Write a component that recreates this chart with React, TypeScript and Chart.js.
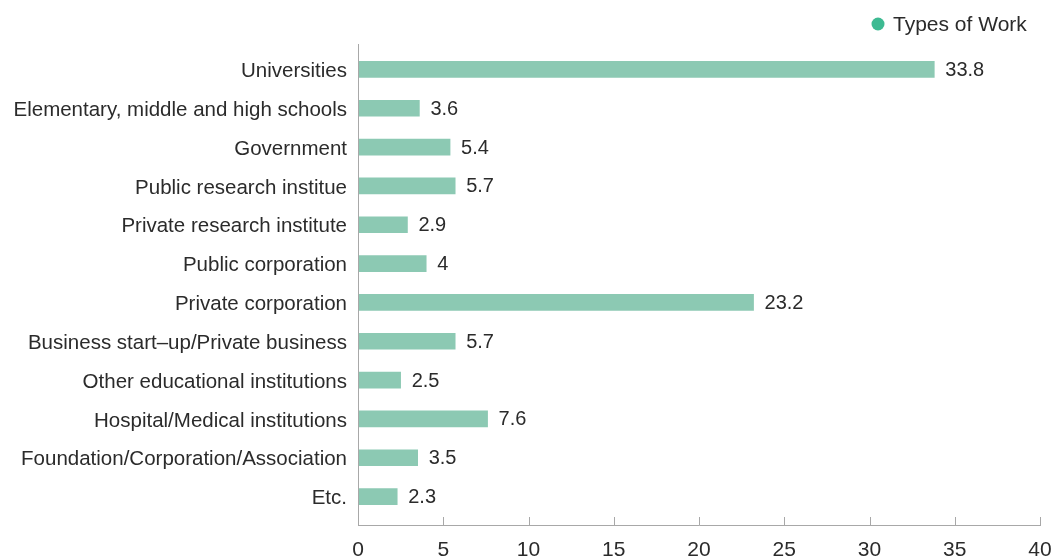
import React, { useEffect, useRef } from "react";
import { Chart, registerables } from "chart.js";

Chart.register(...registerables);

const categories = [
  "Universities",
  "Elementary, middle and high schools",
  "Government",
  "Public research institue",
  "Private research institute",
  "Public corporation",
  "Private corporation",
  "Business start–up/Private business",
  "Other educational institutions",
  "Hospital/Medical institutions",
  "Foundation/Corporation/Association",
  "Etc.",
];
const values = [33.8, 3.6, 5.4, 5.7, 2.9, 4, 23.2, 5.7, 2.5, 7.6, 3.5, 2.3];
const seriesName = "Types of Work";
const xTicks = [0, 5, 10, 15, 20, 25, 30, 35, 40];

const FONT = "'Liberation Sans', Arial, sans-serif";
const BAR_COLOR = "#8cc9b3";
const DOT_COLOR = "#3dba92";
const TEXT = "#2b2b2b";
const AXIS = "#a8a8a8";

const decorPlugin = {
  id: "decor",
  afterDatasetsDraw(chart: any) {
    const { ctx, chartArea, scales } = chart;
    const x = scales.x;
    const axisY = chartArea.bottom + 9;
    ctx.save();
    ctx.strokeStyle = AXIS;
    ctx.lineWidth = 1;
    // y axis line
    ctx.beginPath();
    ctx.moveTo(Math.round(chartArea.left) + 0.5, chartArea.top - 6);
    ctx.lineTo(Math.round(chartArea.left) + 0.5, axisY);
    ctx.stroke();
    // x axis line
    ctx.beginPath();
    ctx.moveTo(chartArea.left, Math.round(axisY) + 0.5);
    ctx.lineTo(x.getPixelForValue(40) + 1, Math.round(axisY) + 0.5);
    ctx.stroke();
    // tick marks upward
    xTicks.forEach((t) => {
      const px = Math.round(x.getPixelForValue(t)) + 0.5;
      ctx.beginPath();
      ctx.moveTo(px, Math.round(axisY) + 0.5);
      ctx.lineTo(px, Math.round(axisY) - 8);
      ctx.stroke();
    });
    // value labels
    ctx.fillStyle = TEXT;
    ctx.font = `20px ${FONT}`;
    ctx.textBaseline = "middle";
    ctx.textAlign = "left";
    const meta = chart.getDatasetMeta(0);
    meta.data.forEach((bar: any, i: number) => {
      ctx.fillText(String(values[i]), bar.x + 11, bar.y + 1);
    });
    // legend
    ctx.fillStyle = DOT_COLOR;
    ctx.beginPath();
    ctx.arc(878, 24, 6.5, 0, Math.PI * 2);
    ctx.fill();
    ctx.fillStyle = TEXT;
    ctx.font = `21px ${FONT}`;
    ctx.fillText(seriesName, 893, 25);
    ctx.restore();
  },
};

export default function App() {
  const ref = useRef<HTMLCanvasElement>(null);
  useEffect(() => {
    document.body.style.margin = "0";
    const chart = new Chart(ref.current!, {
      type: "bar",
      data: {
        labels: categories,
        datasets: [
          {
            label: seriesName,
            data: values,
            backgroundColor: BAR_COLOR,
            barThickness: 16,
          },
        ],
      },
      plugins: [decorPlugin],
      options: {
        indexAxis: "y",
        animation: false,
        responsive: false,
        devicePixelRatio: 1,
        layout: { padding: { left: 0, right: 13, top: 50, bottom: 0 } },
        plugins: {
          tooltip: { enabled: false },
          legend: { display: false },
        },
        scales: {
          x: {
            min: 0,
            max: 40,
            afterFit: (s: any) => {
              s.height = 42;
              s.paddingRight = 0;
              s.paddingLeft = 0;
            },
            grid: { display: false, drawTicks: false },
            border: { display: false },
            ticks: {
              stepSize: 5,
              padding: 22,
              maxRotation: 0,
              color: TEXT,
              font: { family: FONT, size: 21 },
            },
          },
          y: {
            afterFit: (s: any) => {
              s.width = 358;
              s.paddingTop = 0;
              s.paddingBottom = 0;
            },
            grid: { display: false, drawTicks: false },
            border: { display: false },
            ticks: {
              padding: 11,
              labelOffset: 2,
              color: TEXT,
              autoSkip: false,
              font: { family: FONT, size: 20.5 },
            },
          },
        },
      },
    });
    return () => chart.destroy();
  }, []);
  return (
    <div style={{ position: "fixed", left: 0, top: 0, width: 1053, height: 558 }}>
      <canvas ref={ref} width={1053} height={558} />
    </div>
  );
}
